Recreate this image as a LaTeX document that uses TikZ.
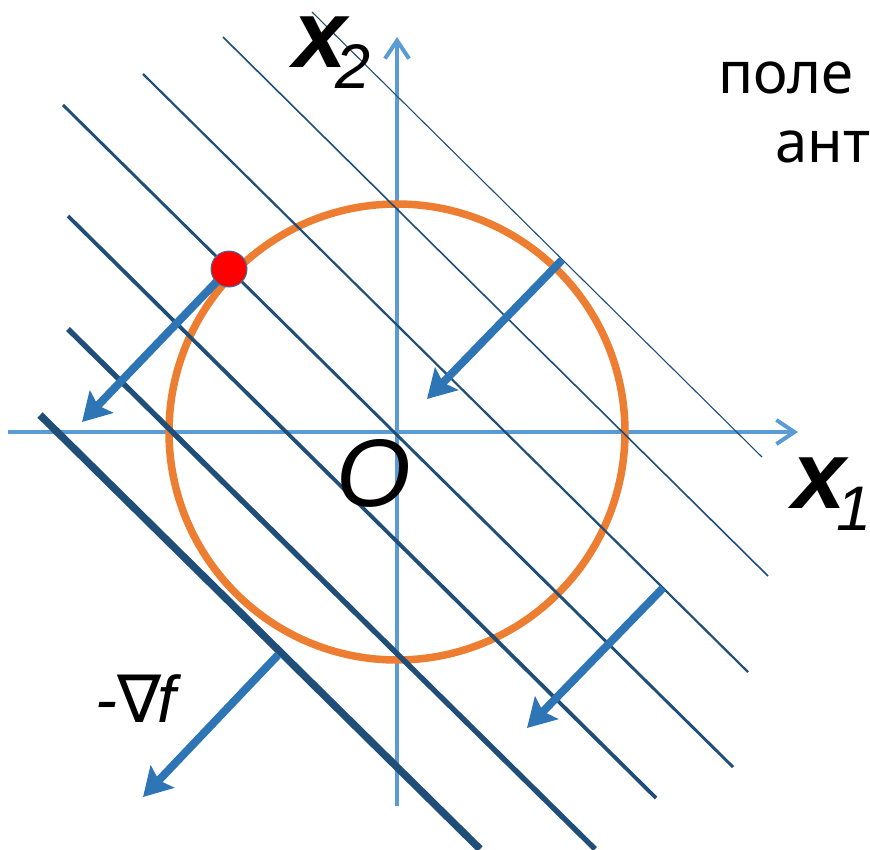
\documentclass[tikz,border=0pt]{standalone}
\usepackage{fontspec}
\setmainfont{Liberation Sans}
\newfontfamily\dvs{DejaVu Sans}
\newfontfamily\hand{Noto Sans}
\usetikzlibrary{arrows.meta}
\definecolor{axisblue}{HTML}{5B9BD5}
\definecolor{circorange}{HTML}{ED7D31}
\definecolor{lvlnavy}{HTML}{1F4E79}
\definecolor{arrblue}{HTML}{2E75B6}
\definecolor{dotedge}{HTML}{41719C}
\tikzset{
  axisline/.style={draw=axisblue, line width=4pt, -{Straight Barb[length=18pt,width=24pt]}},
  lvl/.style={draw=lvlnavy},
  gradarrow/.style={draw=arrblue, fill=arrblue, line width=8pt, -{Stealth[length=28pt,width=32pt,inset=5pt]}},
  lbl/.style={inner sep=0pt, anchor=base west},
}
\begin{document}
\begin{tikzpicture}[x=1pt,y=-1pt]
\path[use as bounding box, fill=white] (0,0) rectangle (870,849);
% axes
\coordinate (xs) at (8,432);
\coordinate (xe) at (798,432);
\coordinate (ys) at (397,806);
\coordinate (ye) at (397,37);
\draw[axisline] (xs) -- (xe);
\draw[axisline] (ys) -- (ye);
% constraint circle
\coordinate (o) at (397,432);
\draw[circorange, line width=7.5pt] (o) circle[radius=228];
% level lines
\draw[lvl, line width=1.1pt] (312,12)  -- (762,457);
\draw[lvl, line width=1.6pt] (223,37)  -- (768,576);
\draw[lvl, line width=2.2pt] (143,74)  -- (748,672);
\draw[lvl, line width=2.9pt] (63,105)  -- (733,767);
\draw[lvl, line width=3.8pt] (68,216)  -- (656,798);
\draw[lvl, line width=5.4pt] (68,329)  -- (595,849);
\draw[lvl, line width=7.5pt] (40,415)  -- (480,849);
% gradient arrows
\coordinate (a1s) at (224,274); \coordinate (a1e) at (82,422);
\coordinate (a2s) at (562,260); \coordinate (a2e) at (427,399);
\coordinate (a3s) at (663,588); \coordinate (a3e) at (527,728);
\coordinate (a4s) at (278,655); \coordinate (a4e) at (143,797);
\draw[gradarrow] (a1s) -- (a1e);
\draw[gradarrow] (a2s) -- (a2e);
\draw[gradarrow] (a3s) -- (a3e);
\draw[gradarrow] (a4s) -- (a4e);
% optimum point
\node[circle, fill=red, draw=dotedge, line width=1pt, minimum size=36pt, inner sep=0pt] (p) at (229,269) {};
% labels
\node[lbl] (x2) at (293,67) {\fontsize{96}{100}\selectfont\bfseries\itshape x\kern-11pt\raisebox{-21pt}{\fontsize{63}{66}\selectfont\mdseries\itshape 2}};
\node[lbl] (x1) at (792,508) {\fontsize{96}{100}\selectfont\bfseries\itshape x\kern-9pt\raisebox{-22pt}{\fontsize{63}{66}\selectfont\mdseries\itshape 1}};
\node[lbl] (origin) at (336,506) {\fontsize{96}{100}\selectfont\itshape O};
\node[lbl] (grad) at (95,722) {\fontsize{66}{70}\selectfont\itshape -{\dvs\itshape ∇}\kern-4pt f};
\node[lbl] (h1) at (718,93) {\fontsize{58}{60}\selectfont\hand поле};
\node[lbl] (h2) at (775,162) {\fontsize{58}{60}\selectfont\hand ант};
\end{tikzpicture}
\end{document}
